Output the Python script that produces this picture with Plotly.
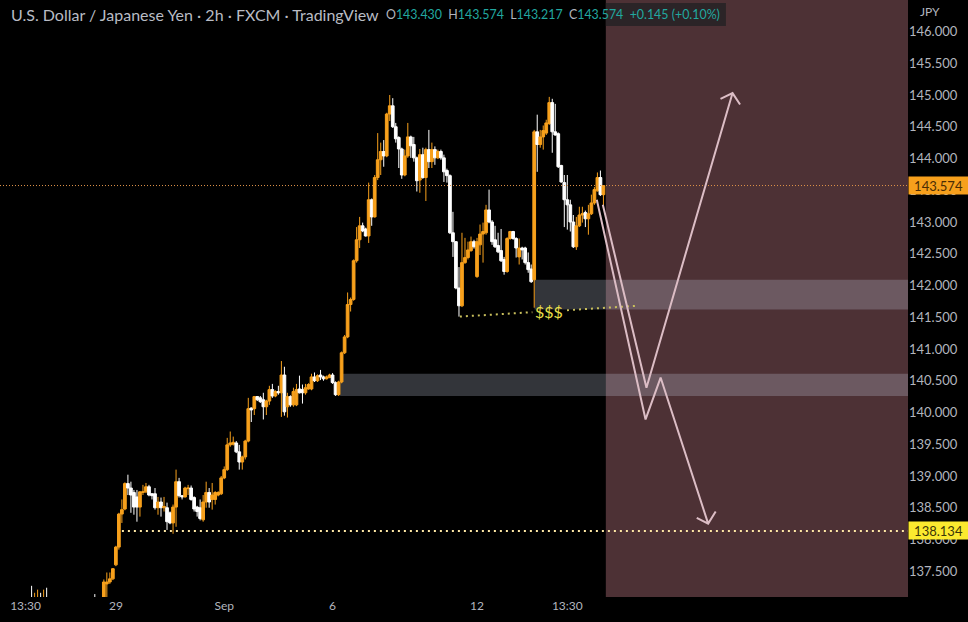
import plotly.graph_objects as go

# bar number counted from the Aug 29 midnight candle, bars under the axis are left out
bar_index = [-28, -27, -26, -25, -24, -23, -7] + list(range(-4, 163))

opens = [137.05, 136.95, 136.95, 137.05, 136.95, 137.05, 137.00,
         137.00, 137.30, 137.33, 137.38,
         137.60, 137.88, 138.40, 138.48, 138.88, 138.81, 138.74, 138.67, 138.51, 138.74,
         138.75, 138.83, 138.72, 138.72, 138.50, 138.59, 138.50, 138.50, 138.42, 138.26,
         138.51, 138.91, 138.69, 138.67, 138.80, 138.81, 138.66, 138.51, 138.50, 138.31,
         138.59, 138.74, 138.63, 138.63, 138.70, 138.72, 138.97, 139.10, 139.49, 139.50,
         139.52, 139.38, 139.22, 139.30, 139.55, 140.07, 140.06, 140.25, 140.23, 140.20,
         140.09, 140.18, 140.36, 140.26, 140.33, 140.31, 140.59, 140.09, 140.25, 140.12,
         140.12, 140.37, 140.36, 140.31, 140.37, 140.37, 140.56, 140.50, 140.59, 140.56,
         140.53, 140.55, 140.59, 140.47, 140.28, 140.48, 140.94, 141.19, 141.70, 141.78,
         142.39, 142.72, 142.94, 142.89, 142.78, 143.35, 143.08, 143.70, 143.98, 144.11,
         144.04, 144.70, 144.83, 144.50, 144.33, 144.15, 143.74, 144.04, 144.34, 144.22,
         144.01, 143.66, 144.06, 143.70, 144.14, 143.95, 144.14, 144.01, 144.11, 144.01,
         143.81, 143.73, 142.83, 142.69, 141.96, 141.68, 142.36, 142.44, 142.55, 142.69,
         142.14, 142.64, 142.81, 142.83, 143.19, 143.00, 142.72, 142.63, 142.55, 142.41,
         142.22, 142.74, 142.85, 142.74, 142.45, 142.59, 142.59, 142.36, 142.26, 142.09,
         144.42, 144.22, 144.34, 144.40, 144.55, 144.88, 144.42, 144.39, 143.89, 143.62,
         143.35, 143.27, 143.00, 142.61, 142.94, 143.11, 143.15, 143.05, 143.13, 143.30,
         143.49, 143.70, 143.43]

highs = [137.27, 137.16, 137.21, 137.16, 137.21, 137.24, 137.14,
         137.37, 137.48, 137.48, 137.55,
         137.90, 138.42, 138.63, 138.90, 139.02, 138.91, 138.78, 138.78, 138.76, 138.86,
         138.89, 138.86, 138.73, 138.81, 138.67, 138.66, 138.67, 138.58, 138.44, 138.55,
         139.10, 138.97, 138.70, 138.83, 138.86, 138.85, 138.68, 138.53, 138.63, 138.70,
         138.91, 138.81, 138.89, 138.76, 138.76, 139.00, 139.15, 139.60, 139.70, 139.62,
         139.55, 139.49, 139.32, 139.57, 140.23, 140.08, 140.26, 140.26, 140.26, 140.31,
         140.20, 140.42, 140.45, 140.35, 140.42, 140.81, 140.72, 140.31, 140.27, 140.39,
         140.45, 140.58, 140.44, 140.45, 140.46, 140.61, 140.63, 140.60, 140.67, 140.58,
         140.58, 140.61, 140.62, 140.49, 140.50, 140.96, 141.22, 141.89, 141.81, 142.41,
         142.92, 143.08, 142.99, 142.91, 143.62, 143.37, 143.74, 144.40, 144.25, 144.29,
         144.72, 145.00, 144.95, 144.56, 144.35, 144.17, 144.14, 144.56, 144.36, 144.34,
         144.03, 144.15, 144.17, 144.17, 144.45, 144.25, 144.19, 144.14, 144.14, 144.06,
         143.84, 143.75, 143.16, 142.70, 142.29, 142.83, 142.75, 142.69, 142.77, 142.72,
         142.75, 142.96, 142.99, 143.27, 143.51, 143.03, 142.94, 142.83, 142.89, 142.45,
         142.76, 142.86, 142.86, 142.76, 142.74, 142.61, 142.61, 142.52, 142.33, 144.45,
         144.69, 144.45, 144.52, 144.61, 144.97, 144.94, 144.86, 144.41, 143.90, 143.74,
         143.74, 143.35, 143.11, 143.08, 143.24, 143.24, 143.18, 143.27, 143.43, 143.55,
         143.78, 143.81, 143.574]

lows = [136.80, 136.85, 136.85, 136.90, 136.85, 136.90, 136.85,
        136.90, 137.05, 137.30, 137.36,
        137.58, 137.84, 138.26, 138.46, 138.70, 138.42, 138.39, 138.28, 138.36, 138.70,
        138.73, 138.68, 138.63, 138.47, 138.39, 138.36, 138.44, 138.15, 138.24, 138.09,
        138.20, 138.66, 138.63, 138.66, 138.70, 138.61, 138.44, 138.36, 138.30, 138.28,
        138.50, 138.50, 138.47, 138.55, 138.68, 138.70, 138.95, 139.08, 139.46, 139.48,
        139.36, 139.10, 139.10, 139.26, 139.53, 139.85, 139.96, 140.18, 140.15, 139.89,
        139.96, 140.12, 140.23, 140.24, 140.28, 139.93, 139.95, 139.92, 140.09, 140.09,
        140.10, 140.30, 140.14, 140.28, 140.36, 140.35, 140.48, 140.48, 140.51, 140.50,
        140.52, 140.54, 140.45, 140.26, 140.26, 140.46, 140.92, 141.17, 141.59, 141.76,
        142.36, 142.59, 142.84, 142.77, 142.67, 142.94, 143.07, 143.66, 143.74, 143.87,
        144.02, 144.59, 144.48, 144.25, 143.85, 143.68, 143.72, 144.01, 144.01, 143.95,
        143.48, 143.46, 143.68, 143.33, 143.85, 143.85, 143.90, 143.99, 143.98, 143.63,
        143.62, 142.81, 142.45, 141.94, 141.51, 141.66, 142.34, 142.41, 142.53, 142.58,
        142.12, 142.48, 142.36, 142.80, 142.98, 142.64, 142.59, 142.51, 142.37, 142.17,
        142.20, 142.72, 142.72, 142.44, 142.33, 142.41, 142.33, 142.20, 142.04, 141.65,
        143.79, 144.17, 144.14, 144.37, 144.53, 144.09, 144.36, 143.85, 143.62, 142.92,
        142.88, 142.85, 142.59, 142.56, 142.92, 142.99, 142.92, 142.80, 143.11, 143.27,
        143.48, 143.41, 143.217]

closes = [136.95, 137.05, 137.05, 136.95, 137.05, 136.95, 136.90,
          137.33, 137.33, 137.38, 137.54,
          137.88, 138.40, 138.47, 138.88, 138.81, 138.70, 138.51, 138.51, 138.75, 138.75,
          138.83, 138.70, 138.69, 138.50, 138.59, 138.50, 138.52, 138.28, 138.26, 138.51,
          138.91, 138.69, 138.67, 138.81, 138.81, 138.63, 138.48, 138.44, 138.33, 138.59,
          138.74, 138.59, 138.70, 138.74, 138.74, 138.97, 139.10, 139.49, 139.52, 139.53,
          139.38, 139.22, 139.30, 139.55, 140.06, 140.04, 140.25, 140.20, 140.17, 140.09,
          140.18, 140.36, 140.26, 140.33, 140.31, 140.59, 140.01, 140.25, 140.12, 140.33,
          140.36, 140.31, 140.31, 140.39, 140.44, 140.56, 140.50, 140.58, 140.56, 140.53,
          140.56, 140.59, 140.47, 140.28, 140.48, 140.94, 141.19, 141.70, 141.78, 142.39,
          142.72, 142.94, 142.86, 142.78, 143.35, 143.08, 143.70, 143.98, 144.11, 144.04,
          144.70, 144.83, 144.50, 144.31, 144.15, 143.74, 144.04, 144.34, 144.20, 144.01,
          143.65, 144.06, 143.70, 144.14, 143.95, 144.14, 144.01, 144.11, 144.01, 143.79,
          143.73, 142.83, 142.69, 141.96, 141.68, 142.36, 142.44, 142.56, 142.69, 142.61,
          142.69, 142.81, 142.85, 143.19, 143.00, 142.69, 142.61, 142.53, 142.39, 142.22,
          142.74, 142.85, 142.74, 142.59, 142.59, 142.56, 142.36, 142.25, 142.06, 144.42,
          144.22, 144.34, 144.44, 144.56, 144.88, 144.42, 144.37, 143.87, 143.63, 143.35,
          143.27, 143.00, 142.61, 142.94, 143.11, 143.13, 143.05, 143.13, 143.30, 143.51,
          143.70, 143.43, 143.574]

x_ticks = [-30, 0, 36, 72, 120, 150]
x_labels = ["13:30", "29", "Sep", "6", "12", "13:30"]
y_ticks = [137.5, 138, 138.5, 139, 139.5, 140, 140.5, 141, 141.5, 142, 142.5,
           143, 143.5, 144, 144.5, 145, 145.5, 146]

last_price = 143.574
target_price = 138.134

# drawings on the chart
zone_upper = [142.09, 141.62]
zone_lower = [140.61, 140.26]
liq_x = [114.3, 138.4, None, 149.9, 173.4]
liq_y = [141.51, 141.58, None, 141.61, 141.68]
down_x = [159.8, 176.0, 181.0, 196.8, 193.0, 196.8, 199.3]
down_y = [143.35, 139.89, 140.55, 138.25, 138.34, 138.25, 138.44]
up_x = [161.8, 176.3, 204.9, 200.9, 204.9, 207.4]
up_y = [143.27, 140.39, 145.03, 144.94, 145.03, 144.85]

ORANGE = "#f7a01c"
X_MIN, X_MAX = -38.5, 263.2
GREY = "#b2b5be"
TEAL = "#22a8a0"

fig = go.Figure()

fig.add_shape(type="rect", x0=162.8, x1=X_MAX, y0=137.0, y1=147, layer="below",
              fillcolor="#4d3135", line_width=0)
fig.add_shape(type="rect", x0=139.1, x1=X_MAX, y0=zone_upper[0], y1=zone_upper[1], layer="below",
              fillcolor="rgba(205,212,232,0.25)", line_width=0)
fig.add_shape(type="rect", x0=74.5, x1=X_MAX, y0=zone_lower[0], y1=zone_lower[1], layer="below",
              fillcolor="rgba(205,212,232,0.25)", line_width=0)
# dark strip behind the end of the OHLC legend
fig.add_shape(type="rect", x0=162.8, x1=202.7, y0=146.086, y1=146.449, layer="below",
              fillcolor="#2b2427", line_width=0)

fig.add_trace(go.Candlestick(
    x=bar_index, open=opens, high=highs, low=lows, close=closes,
    increasing=dict(line=dict(color=ORANGE, width=1), fillcolor=ORANGE),
    decreasing=dict(line=dict(color="#ffffff", width=1), fillcolor="#ffffff"),
    hoverinfo="skip", showlegend=False))

fig.add_trace(go.Scatter(x=[X_MIN, X_MAX], y=[last_price, last_price], mode="lines",
                         line=dict(color="#e0934a", width=1, dash="1px 2px"),
                         hoverinfo="skip", showlegend=False))
fig.add_trace(go.Scatter(x=[2.0, X_MAX], y=[target_price, target_price], mode="lines",
                         line=dict(color="#ffe9a6", width=2, dash="2px 4px"),
                         hoverinfo="skip", showlegend=False))
fig.add_trace(go.Scatter(x=liq_x, y=liq_y, mode="lines",
                         line=dict(color="#c9bf5c", width=2, dash="2px 4px"),
                         hoverinfo="skip", showlegend=False))
fig.add_trace(go.Scatter(x=down_x, y=down_y, mode="lines", line=dict(color="#dcbdc5", width=2),
                         hoverinfo="skip", showlegend=False))
fig.add_trace(go.Scatter(x=up_x, y=up_y, mode="lines", line=dict(color="#dcbdc5", width=2),
                         hoverinfo="skip", showlegend=False))

title = "U.S. Dollar / Japanese Yen · 2h · FXCM · TradingView"
ohlc = (f'O<span style="color:{TEAL}">143.430</span>  H<span style="color:{TEAL}">143.574</span>  '
        f'L<span style="color:{TEAL}">143.217</span>  C<span style="color:{TEAL}">143.574</span>  '
        f'<span style="color:{TEAL}">+0.145 (+0.10%)</span>')

fig.add_annotation(xref="paper", yref="paper", x=9 / 908, y=1 - 15 / 597, xanchor="left", yanchor="middle",
                   text=title, showarrow=False, font=dict(family="Lato", size=16, color="#b9bcc4"))
fig.add_annotation(xref="paper", yref="paper", x=384 / 908, y=1 - 15 / 597, xanchor="left", yanchor="middle",
                   text=ohlc, showarrow=False, font=dict(family="Lato", size=12.4, color=GREY))
fig.add_annotation(xref="paper", yref="paper", x=918 / 908, y=1 - 11 / 597, xanchor="left", yanchor="middle",
                   text="JPY", showarrow=False, font=dict(family="Lato", size=12, color=GREY))
fig.add_annotation(x=144.0, y=141.59, text="$$$", showarrow=False,
                   font=dict(family="Lato", size=16, color="#ebe04a"))

fig.add_annotation(xref="paper", x=1, y=last_price, xanchor="left", text=f"{last_price:.3f}", showarrow=False,
                   bgcolor=ORANGE, width=59, height=17, borderpad=0,
                   font=dict(family="Lato", size=13, color="#4a2c05"))
fig.add_annotation(xref="paper", x=1, y=target_price, xanchor="left", text=f"{target_price:.3f}", showarrow=False,
                   bgcolor="#fbe92f", width=59, height=17, borderpad=0,
                   font=dict(family="Lato", size=13, color="#3b3608"))

fig.update_layout(
    width=968, height=622,
    margin=dict(l=0, r=60, t=0, b=25),
    paper_bgcolor="#000000", plot_bgcolor="#000000",
    boxgap=0.1, boxgroupgap=0.0,
    xaxis=dict(range=[X_MIN, X_MAX], rangeslider=dict(visible=False), showgrid=False, zeroline=False,
               tickmode="array", tickvals=x_ticks, ticktext=x_labels, ticklen=5, tickcolor="rgba(0,0,0,0)",
               tickfont=dict(family="Lato", size=12, color=GREY)),
    yaxis=dict(range=[137.094, 146.496], side="right", showgrid=False, zeroline=False,
               tickmode="array", tickvals=y_ticks, tickformat=".3f", ticklen=9, tickcolor="rgba(0,0,0,0)",
               tickfont=dict(family="Lato", size=13, color=GREY)),
)

# the page body has a default margin that would shift the chart
fig.write_html("out.html", config=dict(displayModeBar=False),
               post_script="document.body.style.margin = '0';")
